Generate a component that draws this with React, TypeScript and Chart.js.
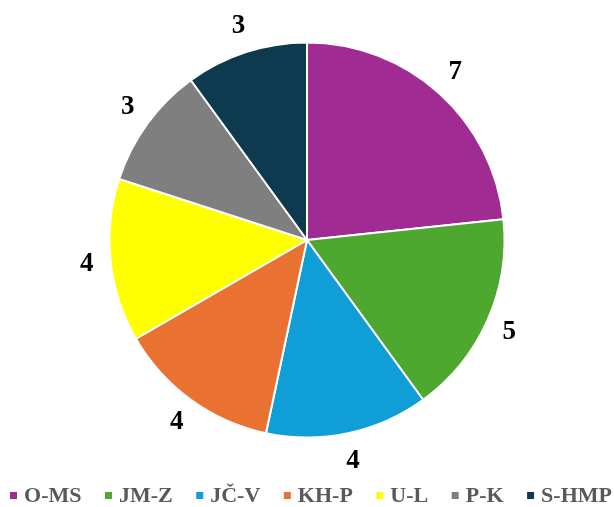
import React, { useEffect, useRef } from "react";
import { Chart, registerables } from "chart.js";

Chart.register(...registerables);

const categories = ["O-MS", "JM-Z", "JČ-V", "KH-P", "U-L", "P-K", "S-HMP"];
const values = [7, 5, 4, 4, 4, 3, 3];
const colors = ["#A02B93", "#4EA72E", "#0F9ED5", "#E97132", "#FFFF00", "#7F7F7F", "#0E3A4F"];

const SERIF = "'Liberation Serif', 'Times New Roman', serif";

const outsideLabels = {
  id: "outsideLabels",
  afterDatasetsDraw(chart: any) {
    const meta = chart.getDatasetMeta(0);
    const ctx = chart.ctx;
    ctx.save();
    ctx.font = `bold 27px ${SERIF}`;
    ctx.fillStyle = "#000000";
    ctx.textAlign = "center";
    ctx.textBaseline = "middle";
    meta.data.forEach((arc: any, i: number) => {
      const p = arc.getProps(["x", "y", "startAngle", "endAngle", "outerRadius"], true);
      const mid = (p.startAngle + p.endAngle) / 2;
      const rx = p.outerRadius + 24;
      const ry = p.outerRadius + 28;
      ctx.fillText(String(values[i]), p.x + Math.cos(mid) * rx, p.y + Math.sin(mid) * ry);
    });
    ctx.restore();
  },
};

const bottomLegend = {
  id: "bottomLegend",
  afterDraw(chart: any) {
    const ctx = chart.ctx;
    const ds = chart.data.datasets[0];
    const labels: string[] = chart.data.labels;
    ctx.save();
    ctx.font = `bold 22px ${SERIF}`;
    ctx.textBaseline = "middle";
    ctx.textAlign = "left";
    const box = 7;
    const boxGap = 7;
    const itemGap = 23.5;
    const widths = labels.map((l) => ctx.measureText(l).width);
    const total =
      widths.reduce((a, w) => a + box + boxGap + w, 0) + itemGap * (labels.length - 1);
    let x = 311 - total / 2;
    const y = 496.5;
    labels.forEach((l, i) => {
      ctx.fillStyle = ds.backgroundColor[i];
      ctx.fillRect(x, y - 4.5, box, box);
      x += box + boxGap;
      ctx.fillStyle = "#595959";
      ctx.fillText(l, x, y);
      x += widths[i] + itemGap;
    });
    ctx.restore();
  },
};

export default function App() {
  const ref = useRef<HTMLCanvasElement | null>(null);

  useEffect(() => {
    if (!ref.current) return;
    const chart = new Chart(ref.current, {
      type: "pie",
      data: {
        labels: categories,
        datasets: [
          {
            data: values,
            backgroundColor: colors,
            borderColor: "#FFFFFF",
            borderWidth: 2,
          },
        ],
      },
      options: {
        responsive: false,
        animation: false,
        radius: 197.5,
        layout: { padding: { top: 0, bottom: 27, left: 0, right: 0 } },
        plugins: {
          legend: { display: false },
          tooltip: { enabled: false },
        },
      } as any,
      plugins: [outsideLabels, bottomLegend],
    });
    return () => chart.destroy();
  }, []);

  return (
    <div
      style={{
        position: "fixed",
        left: 0,
        top: 0,
        width: 614,
        height: 507,
        background: "#FFFFFF",
        overflow: "hidden",
      }}
    >
      <canvas ref={ref} width={614} height={507} style={{ display: "block" }} />
    </div>
  );
}
